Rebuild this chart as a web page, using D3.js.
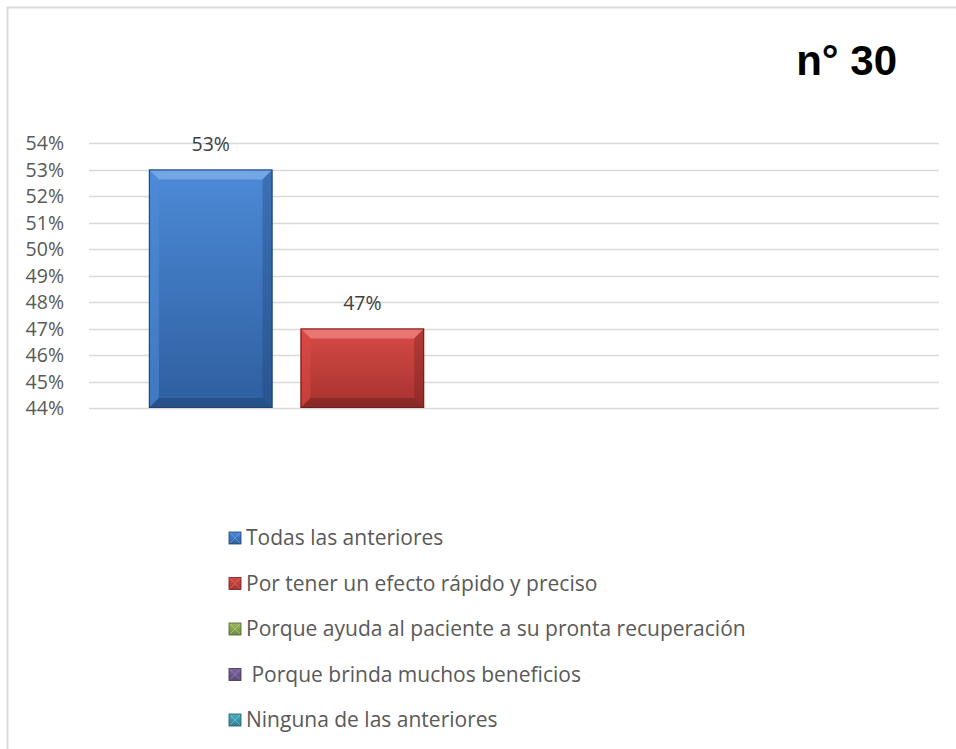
<!DOCTYPE html>
<html>
<head>
<meta charset="utf-8">
<script src="https://cdn.jsdelivr.net/npm/d3@7"></script>
<style>
  html, body { margin: 0; padding: 0; background: #fff; }
  svg { display: block; }
</style>
</head>
<body>
<div id="chart"></div>
<script>
// chart data
const series = [
  "Todas las anteriores",
  "Por tener un efecto rápido y preciso",
  "Porque ayuda al paciente a su pronta recuperación",
  " Porque brinda muchos beneficios",
  "Ninguna de las anteriores"
];
const values = [0.53, 0.47, 0, 0, 0];
const showLabel = [true, true, false, false, false];
const tickValues = [0.44, 0.45, 0.46, 0.47, 0.48, 0.49, 0.50, 0.51, 0.52, 0.53, 0.54];
const colors = [
  { top: "#4d8ad8", bot: "#2e5f9f", light: "#7fb0ec", dark: "#1f4274" },
  { top: "#d84a46", bot: "#a5322f", light: "#f08582", dark: "#6e1f1d" },
  { top: "#9bbb59", bot: "#71893f", light: "#c1da8e", dark: "#4d5e2a" },
  { top: "#8064a2", bot: "#5c4876", light: "#ac95c8", dark: "#3e304f" },
  { top: "#4bacc6", bot: "#327d91", light: "#89d0e2", dark: "#225664" }
];

const font = "'Open Sans', Carlito, Calibri, sans-serif";
const width = 956, height = 749;
const svg = d3.select("#chart").append("svg")
  .attr("width", width)
  .attr("height", height);

// frame (only top + left visible in the crop)
svg.append("line").attr("x1", 7).attr("x2", width).attr("y1", 7.5).attr("y2", 7.5)
  .attr("stroke", "#d9d9d9").attr("stroke-width", 2);
svg.append("line").attr("x1", 7.5).attr("x2", 7.5).attr("y1", 7).attr("y2", height)
  .attr("stroke", "#d9d9d9").attr("stroke-width", 2);

// title
svg.append("text")
  .attr("x", 897).attr("y", 75)
  .attr("text-anchor", "end")
  .attr("font-family", "'Liberation Sans', Arial, sans-serif")
  .attr("font-weight", "bold")
  .attr("font-size", "42px")
  .attr("fill", "#000")
  .text("n° 30");

const plot = { left: 89, right: 939, top: 143, bottom: 408 };

const y = d3.scaleLinear().domain([0.44, 0.54]).range([plot.bottom, plot.top]);
const x = d3.scaleBand().domain(series).range([plot.left, plot.right])
  .paddingInner(0.185).paddingOuter(0.395);

// gridlines
svg.append("g").selectAll("line").data(tickValues).join("line")
  .attr("x1", plot.left).attr("x2", plot.right)
  .attr("y1", d => Math.round(y(d)) + 0.5).attr("y2", d => Math.round(y(d)) + 0.5)
  .attr("stroke", "#d9d9d9").attr("stroke-width", 1.5);

// y axis labels
const yAxis = svg.append("g")
  .attr("transform", `translate(${plot.left - 25},0)`)
  .call(d3.axisLeft(y).tickValues(tickValues).tickFormat(d3.format(".0%")).tickSize(0).tickPadding(0));
yAxis.select(".domain").remove();
yAxis.selectAll("text")
  .attr("font-family", font)
  .attr("font-size", "19.5px")
  .attr("fill", "#595959")
  .attr("dy", "0.35em");

// gradients
const defs = svg.append("defs");
colors.forEach((c, i) => {
  const g = defs.append("linearGradient").attr("id", "grad" + i)
    .attr("x1", 0).attr("x2", 0).attr("y1", 0).attr("y2", 1);
  g.append("stop").attr("offset", "0%").attr("stop-color", c.top);
  g.append("stop").attr("offset", "100%").attr("stop-color", c.bot);
});
defs.append("clipPath").attr("id", "plotClip").append("rect")
  .attr("x", plot.left).attr("y", plot.top - 20)
  .attr("width", plot.right - plot.left).attr("height", plot.bottom - plot.top + 20);

// bars with bevel
const bars = svg.append("g").attr("clip-path", "url(#plotClip)")
  .selectAll("g").data(series.map((s, i) => ({ s, v: values[i], i })))
  .join("g")
  .filter(d => d.v > 0.44);

const bev = 10;
bars.append("rect")
  .attr("x", d => x(d.s)).attr("y", d => y(d.v))
  .attr("width", x.bandwidth()).attr("height", d => plot.bottom - y(d.v))
  .attr("fill", d => `url(#grad${d.i})`);
// top bevel
bars.append("path")
  .attr("d", d => {
    const x0 = x(d.s), x1 = x0 + x.bandwidth(), y0 = y(d.v);
    return `M${x0},${y0}L${x1},${y0}L${x1 - bev},${y0 + bev}L${x0 + bev},${y0 + bev}Z`;
  })
  .attr("fill", d => colors[d.i].light).attr("opacity", 0.75);
// left bevel
bars.append("path")
  .attr("d", d => {
    const x0 = x(d.s), y0 = y(d.v), y1 = plot.bottom;
    return `M${x0},${y0}L${x0 + bev},${y0 + bev}L${x0 + bev},${y1 - bev}L${x0},${y1}Z`;
  })
  .attr("fill", d => colors[d.i].top).attr("opacity", 0.6);
// right bevel
bars.append("path")
  .attr("d", d => {
    const x1 = x(d.s) + x.bandwidth(), y0 = y(d.v), y1 = plot.bottom;
    return `M${x1},${y0}L${x1 - bev},${y0 + bev}L${x1 - bev},${y1 - bev}L${x1},${y1}Z`;
  })
  .attr("fill", d => colors[d.i].dark).attr("opacity", 0.35);
// bottom bevel
bars.append("path")
  .attr("d", d => {
    const x0 = x(d.s), x1 = x0 + x.bandwidth(), y1 = plot.bottom;
    return `M${x0},${y1}L${x0 + bev},${y1 - bev}L${x1 - bev},${y1 - bev}L${x1},${y1}Z`;
  })
  .attr("fill", d => colors[d.i].dark).attr("opacity", 0.5);
bars.append("rect")
  .attr("x", d => x(d.s) + 0.5).attr("y", d => y(d.v) + 0.5)
  .attr("width", x.bandwidth() - 1).attr("height", d => plot.bottom - y(d.v) - 1)
  .attr("fill", "none").attr("stroke", d => colors[d.i].dark).attr("stroke-width", 1);

// data labels
svg.append("g").selectAll("text")
  .data(series.map((s, i) => ({ s, v: values[i], i })).filter(d => showLabel[d.i]))
  .join("text")
  .attr("x", d => x(d.s) + x.bandwidth() / 2)
  .attr("y", d => y(d.v) - 19)
  .attr("text-anchor", "middle")
  .attr("font-family", font)
  .attr("font-size", "19.5px")
  .attr("fill", "#404040")
  .text(d => d3.format(".0%")(d.v));

// legend
const legend = svg.append("g").attr("transform", "translate(229,532)");
const rowH = 45.5;
const items = legend.selectAll("g").data(series.map((s, i) => ({ s, i })))
  .join("g")
  .attr("transform", d => `translate(0,${d.i * rowH})`);
items.append("rect")
  .attr("width", 12).attr("height", 12)
  .attr("fill", d => `url(#grad${d.i})`)
  .attr("stroke", d => colors[d.i].dark).attr("stroke-width", 0.8);
items.append("path")
  .attr("d", "M1,1L11,11M11,1L1,11")
  .attr("stroke", d => colors[d.i].light).attr("stroke-width", 1).attr("opacity", 0.6);
items.append("text")
  .attr("x", 17).attr("y", 6)
  .attr("dy", "0.35em")
  .attr("font-family", font)
  .attr("font-size", "21px")
  .attr("fill", "#595959")
  .attr("xml:space", "preserve")
  .style("white-space", "pre")
  .text(d => d.s);
</script>
</body>
</html>
